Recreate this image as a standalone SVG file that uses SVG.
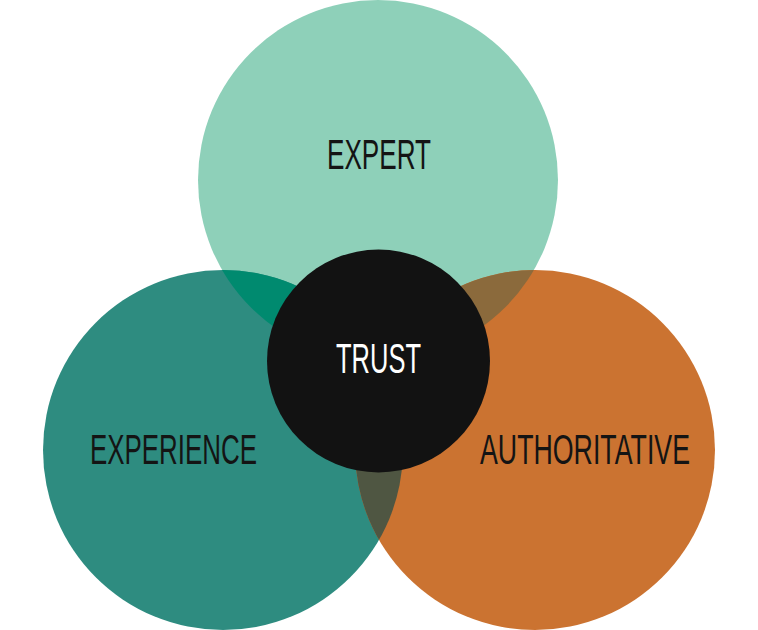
<svg xmlns="http://www.w3.org/2000/svg" width="758" height="630" viewBox="0 0 758 630">
  <style>
    .lbl { font-family: "Liberation Sans", Arial, sans-serif; font-size: 43px; text-anchor: middle; }
    .dark { fill: #141414; }
    .light { fill: #ffffff; }
  </style>
  <defs>
    <clipPath id="clipLeft"><circle cx="223" cy="450" r="180"/></clipPath>
    <clipPath id="clipRight"><circle cx="535" cy="450" r="180"/></clipPath>
  </defs>
  <rect width="758" height="630" fill="#ffffff"/>
  <g id="expert">
    <circle cx="378" cy="180" r="180" fill="#8ed0b9"/>
  </g>
  <g id="experience">
    <circle cx="223" cy="450" r="180" fill="#2e8c80"/>
  </g>
  <g id="authoritative">
    <circle cx="535" cy="450" r="180" fill="#cb7331"/>
  </g>
  <g id="overlaps">
    <circle cx="378" cy="180" r="180" fill="#008a6f" clip-path="url(#clipLeft)"/>
    <circle cx="378" cy="180" r="180" fill="#8b6a3c" clip-path="url(#clipRight)"/>
    <circle cx="223" cy="450" r="180" fill="#4f5642" clip-path="url(#clipRight)"/>
  </g>
  <g id="trust">
    <circle cx="378.5" cy="361" r="111.5" fill="#121212"/>
    <text class="lbl light" x="378.5" y="373" textLength="85" lengthAdjust="spacingAndGlyphs">TRUST</text>
  </g>
  <g id="labels">
    <text class="lbl dark" x="379" y="169" textLength="104" lengthAdjust="spacingAndGlyphs">EXPERT</text>
    <text class="lbl dark" x="173.5" y="464" textLength="167" lengthAdjust="spacingAndGlyphs">EXPERIENCE</text>
    <text class="lbl dark" x="585" y="464" textLength="210" lengthAdjust="spacingAndGlyphs">AUTHORITATIVE</text>
  </g>
</svg>
